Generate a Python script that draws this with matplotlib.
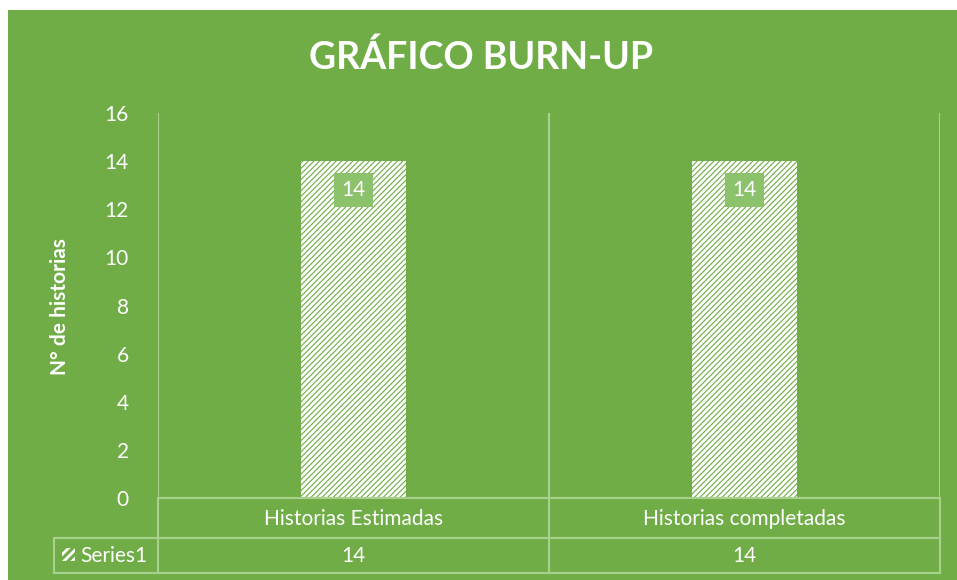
import matplotlib
import matplotlib.pyplot as plt
import matplotlib.patches as mpatches
import matplotlib.transforms as mtransforms

matplotlib.use('Agg')

categories = ["Historias Estimadas", "Historias completadas"]
values = [14, 14]
series_name = "Series1"
title = "GRÁFICO BURN-UP"
ylabel = "N° de historias"
yticks = [0, 2, 4, 6, 8, 10, 12, 14, 16]

GREEN = '#70AD47'
LINE = '#A9D18E'
BOX = '#8DC26C'
FS = 15

plt.rcParams['font.family'] = ['Lato', 'DejaVu Sans']
plt.rcParams['hatch.color'] = 'white'
plt.rcParams['hatch.linewidth'] = 2.0

W, H = 957, 580
fig = plt.figure(figsize=(W / 100, H / 100), dpi=100, facecolor='white')
fig.patches.append(mpatches.Rectangle((8 / W, 0), 1 - 8 / W, 1 - 10 / H,
                                      transform=fig.transFigure,
                                      facecolor=GREEN, edgecolor='none', zorder=-10))

left, right, top, bottom = 158, 940, 113, 498
ax = fig.add_axes([left / W, 1 - bottom / H, (right - left) / W, (bottom - top) / H])
ax.set_facecolor('none')

x = list(range(len(categories)))
bars = ax.bar(x, values, width=0.266, color=GREEN, edgecolor='white',
              linewidth=0, hatch='//////')
ax.set_xlim(-0.5, len(categories) - 0.5)
ax.set_ylim(0, 16)
ax.set_yticks(yticks)
ax.set_yticklabels([str(t) for t in yticks], color='white', fontsize=FS)
ax.tick_params(axis='y', length=0, pad=21)
ax.set_xticks([])
for s in ax.spines.values():
    s.set_visible(False)

# category separators
for xv in [-0.5, 0.5, 1.5]:
    ax.axvline(xv, color=LINE, lw=1.5, zorder=0)

for b, v in zip(bars, values):
    ax.text(b.get_x() + b.get_width() / 2, v - 1.2, str(v), ha='center', va='center',
            color='white', fontsize=FS,
            bbox=dict(boxstyle='square,pad=0.35', facecolor=BOX, edgecolor='none'))

fig.text(0.5 + 3 / W, 1 - 57 / H, title, ha='center', va='center', color='white',
         fontsize=27, fontweight='bold')
fig.text(60 / W, 1 - 307 / H, ylabel, ha='center', va='center', rotation=90,
         color='white', fontsize=15, fontweight='bold')

# data table
trans = mtransforms.blended_transform_factory(ax.transData, fig.transFigure)
row1_top, row1_bot, row2_bot = 498, 538, 573
tab_left = 54


def fy(p):
    return 1 - p / H


def fx(p):
    return p / W


def hline(x0, x1, yy):
    fig.add_artist(plt.Line2D([fx(x0), fx(x1)], [fy(yy), fy(yy)], color=LINE, lw=1.5))


def vline(xx, y0, y1):
    fig.add_artist(plt.Line2D([fx(xx), fx(xx)], [fy(y0), fy(y1)], color=LINE, lw=1.5))


hline(left, right, row1_top)
hline(tab_left, right, row1_bot)
hline(tab_left, right, row2_bot)
vline(tab_left, row1_bot, row2_bot)
for xp in [left, (left + right) / 2, right]:
    vline(xp, row1_top, row2_bot)

for xi, cat, v in zip(x, categories, values):
    ax.text(xi, fy((row1_top + row1_bot) / 2 + 1), cat, transform=trans, ha='center',
            va='center', color='white', fontsize=FS)
    ax.text(xi, fy((row1_bot + row2_bot) / 2 + 1), str(v), transform=trans, ha='center',
            va='center', color='white', fontsize=FS)

key = mpatches.Rectangle((fx(62), fy(561)), fx(13), 13 / H, transform=fig.transFigure,
                         facecolor=GREEN, edgecolor='white', linewidth=0, hatch='////')
fig.add_artist(key)
fig.text(fx(80), fy((row1_bot + row2_bot) / 2 + 1), series_name, ha='left', va='center',
         color='white', fontsize=FS)

fig.savefig('out.png', dpi=100, facecolor='white')
